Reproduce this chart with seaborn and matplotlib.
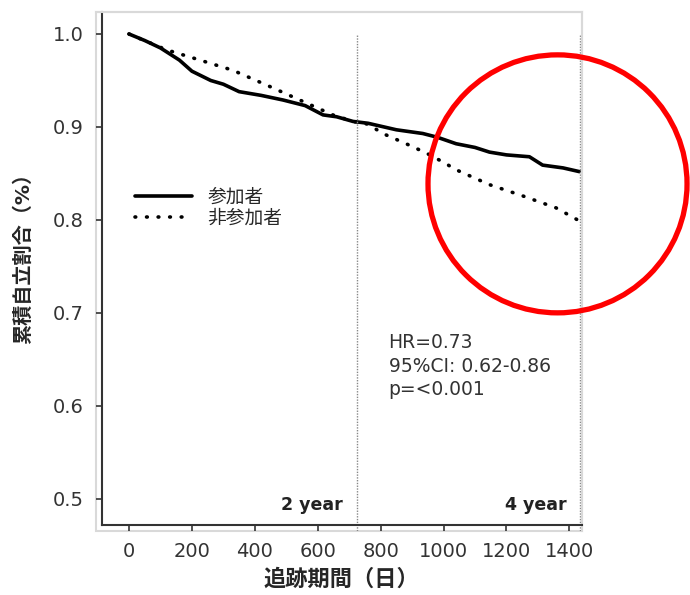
import matplotlib
matplotlib.use("Agg")
import matplotlib.pyplot as plt
from matplotlib.patches import Ellipse, Rectangle
import pandas as pd
import seaborn as sns

# Kaplan-Meier style curves (days, cumulative proportion)
participant_days = [0, 50, 100, 160, 200, 260, 300, 350, 420, 490, 560, 617, 660,
                    712, 760, 850, 934, 980, 1040, 1100, 1146, 1200, 1273, 1315,
                    1380, 1432]
participant_vals = [1.000, 0.993, 0.985, 0.972, 0.960, 0.950, 0.946, 0.938, 0.934,
                    0.929, 0.923, 0.913, 0.911, 0.906, 0.904, 0.897, 0.893, 0.889,
                    0.882, 0.878, 0.873, 0.870, 0.868, 0.859, 0.856, 0.852]

nonparticipant_days = [0, 119, 225, 330, 438, 543, 648, 712, 760, 807, 881, 945,
                       1000, 1040, 1146, 1251, 1358, 1432]
nonparticipant_vals = [1.000, 0.983, 0.972, 0.961, 0.945, 0.929, 0.913, 0.906, 0.903,
                       0.893, 0.882, 0.872, 0.862, 0.854, 0.838, 0.826, 0.813, 0.799]

group_labels = ["参加者", "非参加者"]
year_marks = [725, 1434]
year_labels = ["2 year", "4 year"]
x_ticks = [0, 200, 400, 600, 800, 1000, 1200, 1400]
y_ticks = [0.5, 0.6, 0.7, 0.8, 0.9, 1.0]
stats_text = "HR=0.73\n95%CI: 0.62-0.86\np=<0.001"

df = pd.concat([
    pd.DataFrame({"day": participant_days, "rate": participant_vals, "group": group_labels[0]}),
    pd.DataFrame({"day": nonparticipant_days, "rate": nonparticipant_vals, "group": group_labels[1]}),
])

sns.set_theme(style="white")
plt.rcParams["font.family"] = ["DejaVu Sans", "Noto Sans CJK JP"]

fig = plt.figure(figsize=(6.9, 5.95), dpi=100)
ax = fig.add_axes([0.1391, 0.1076, 0.7043, 0.8723])

sns.lineplot(
    data=df, x="day", y="rate", hue="group", style="group",
    palette={group_labels[0]: "black", group_labels[1]: "black"},
    dashes={group_labels[0]: "", group_labels[1]: (0.2, 3.0)},
    estimator=None, linewidth=2.6, ax=ax,
)
for line in ax.get_lines():
    line.set_dash_capstyle("round")

for xm in year_marks:
    ax.vlines(xm, 0.4, 1.0, colors="#888888", linewidth=1.0, linestyles=(0, (1, 1)))

x_lo, x_hi = -105, 1440
y_lo, y_hi = 0.4656, 1.0237
ax.set_xlim(x_lo, x_hi)
ax.set_ylim(y_lo, y_hi)
ax.set_xticks(x_ticks)
ax.set_yticks(y_ticks)
ax.set_yticklabels([f"{v:.1f}" for v in y_ticks])
ax.tick_params(axis="both", labelsize=14, colors="#333333", length=4, width=1.2,
               direction="out", left=True, bottom=True)
ax.tick_params(axis="y", pad=9)
ax.tick_params(axis="x", pad=8)

for side in ["top", "right", "left", "bottom"]:
    ax.spines[side].set_color("#d9d9d9")
    ax.spines[side].set_linewidth(1.5)
for side in ["left", "bottom"]:
    ax.spines[side].set_position(("outward", -4.3))
    ax.spines[side].set_color("#333333")
    ax.spines[side].set_linewidth(1.5)
ax.spines["left"].set_bounds(0.472, y_hi)
ax.spines["bottom"].set_bounds(-86, x_hi)
# light grey frame around the plotting area
ax.add_patch(Rectangle((0, 0), 1, 1, transform=ax.transAxes, fill=False,
                       edgecolor="#d9d9d9", linewidth=1.5, clip_on=False, zorder=0))

ax.set_xlabel("追跡期間（日）", fontsize=16, fontweight="bold")
ax.set_ylabel("累積自立割合（%）", fontsize=14.5, fontweight="bold")
ax.xaxis.set_label_coords(0.505, -0.072)
ax.yaxis.set_label_coords(-0.13, 0.535)

ax.legend(title=None, frameon=False, fontsize=13.5, loc="center left",
          bbox_to_anchor=(0.062, 0.623), handlelength=3.0, handletextpad=0.85,
          labelspacing=0.1, borderpad=0)

ax.text(825, 0.678, stats_text, fontsize=13.5, color="#333333", va="top", ha="left",
        linespacing=1.28)
ax.text(679, 0.4935, year_labels[0], fontsize=12.5, fontweight="bold", ha="right",
        va="center", color="#222222")
ax.text(1390, 0.4935, year_labels[1], fontsize=12.5, fontweight="bold", ha="right",
        va="center", color="#222222")

# red highlight circle drawn over the chart
fig.patches.append(Ellipse((0.808, 0.691), 0.3754, 0.4336, transform=fig.transFigure,
                           fill=False, edgecolor="#ff0000", linewidth=3.8))

fig.savefig("out.png", dpi=100)
plt.close(fig)
